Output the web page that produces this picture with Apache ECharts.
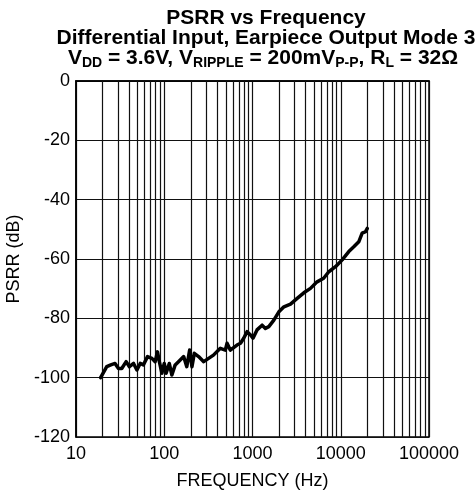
<!DOCTYPE html>
<html><head><meta charset="utf-8">
<script src="https://cdn.jsdelivr.net/npm/echarts@6/dist/echarts.min.js"></script>
<style>html,body{margin:0;padding:0;background:#fff}#c{width:476px;height:498px}</style>
</head><body><div id="c"></div>
<script>
var titleLine1 = 'PSRR vs Frequency';
var titleLine2 = 'Differential Input, Earpiece Output Mode 3';
var xAxisName = 'FREQUENCY (Hz)';
var yAxisName = 'PSRR (dB)';
var xTicks = [10, 100, 1000, 10000, 100000];
var yTicks = [-120, -100, -80, -60, -40, -20, 0];
var minorFreqs = [20,30,40,50,60,70,80,90,200,300,400,500,600,700,800,900,2000,3000,4000,5000,6000,7000,8000,9000,20000,30000,40000,50000,60000,70000,80000,90000];
var freq = [19,22.3,24.8,27.7,30.3,33,37,40.3,44.9,49,53.4,58,64.6,72.5,78.9,83.8,88,94,100,105,114,122,133,145,166,180,194,206,219,245,280,318,361,432,492,515,560,667,731,795,869,950,1013,1125,1285,1401,1530,1745,1990,2270,2695,3207,3815,4540,5390,6400,7320,8720,10380,12340,14050,16000,17480,19100,20000];
var psrr = [-100,-96.3,-95.7,-95.2,-96.9,-96.9,-94.6,-96.3,-95.2,-97.4,-95.2,-95.7,-92.9,-93.5,-94.6,-91.3,-94.6,-98.5,-95.2,-98.5,-95.2,-99.1,-95.7,-94.6,-92.9,-96.3,-90.7,-96.3,-91.8,-92.9,-94.6,-93.5,-92.4,-90.1,-90.7,-88.4,-90.7,-89.0,-88.4,-86.7,-84.5,-85.6,-86.7,-83.9,-82.3,-83.4,-82.8,-80.6,-77.8,-76.1,-75.2,-73.3,-71.4,-69.9,-67.7,-66.5,-64.3,-62.6,-60.3,-57.5,-55.9,-54.2,-51.3,-50.8,-49.7];

var FONT = 'Liberation Sans, Arial, sans-serif';
var chart = echarts.init(document.getElementById('c'), null, {renderer: 'canvas'});
var gridColor = '#111';
chart.setOption({
  animation: false,
  backgroundColor: '#fff',
  title: [
    {text: titleLine1, left: 261, top: 3, textAlign: 'center',
     textStyle: {fontFamily: FONT, fontWeight: 'bold', fontSize: 21, color: '#000', lineHeight: 20}},
    {text: titleLine2, left: 261, top: 23, textAlign: 'center',
     textStyle: {fontFamily: FONT, fontWeight: 'bold', fontSize: 21, color: '#000', lineHeight: 20}},
    {text: '{n|V}{s|DD}{n| = 3.6V, V}{s|RIPPLE}{n| = 200mV}{s|P-P}{n|, R}{s|L}{n| = 32Ω}', left: 258, top: 43, textAlign: 'center',
     textStyle: {fontFamily: FONT, fontWeight: 'bold', fontSize: 21, color: '#000',
       rich: {
         n: {fontFamily: FONT, fontWeight: 'bold', fontSize: 21, color: '#000', lineHeight: 20, verticalAlign: 'top'},
         s: {fontFamily: FONT, fontWeight: 'bold', fontSize: 14, color: '#000', lineHeight: 20, verticalAlign: 'top', padding: [8, 0, 0, 0]}
       }}}
  ],
  grid: {left: 76, right: 47, top: 81, bottom: 61, show: true, borderColor: '#000', borderWidth: 1.5,
         backgroundColor: 'transparent', containLabel: false, outerBoundsMode: 'none'},
  xAxis: {
    type: 'log', logBase: 10, min: xTicks[0], max: xTicks[xTicks.length - 1],
    name: xAxisName, nameLocation: 'middle', nameGap: 35,
    nameTextStyle: {fontFamily: FONT, fontSize: 18, color: '#000'},
    axisLine: {show: true, lineStyle: {color: '#000', width: 1.5}},
    axisTick: {show: false},
    axisLabel: {fontFamily: FONT, fontSize: 18, color: '#000', margin: 8, showMinLabel: true, showMaxLabel: true,
      formatter: function (v) { return String(Math.round(v)); }},
    splitLine: {show: true, lineStyle: {color: gridColor, width: 1.2}}
  },
  yAxis: {
    type: 'value', min: yTicks[0], max: yTicks[yTicks.length - 1], interval: 20,
    name: yAxisName, nameLocation: 'middle', nameGap: 46,
    nameTextStyle: {fontFamily: FONT, fontSize: 18, color: '#000'},
    axisLine: {show: true, lineStyle: {color: '#000', width: 1.5}},
    axisTick: {show: false},
    axisLabel: {fontFamily: FONT, fontSize: 18, color: '#000', margin: 6},
    splitLine: {show: true, lineStyle: {color: gridColor, width: 1.2}}
  },
  series: [{
    type: 'line',
    data: freq.map(function (f, i) { return [f, psrr[i]]; }),
    showSymbol: false, symbol: 'none', smooth: false,
    lineStyle: {color: '#000', width: 3.5, join: 'round', cap: 'round'},
    z: 5,
    markLine: {
      silent: true, symbol: 'none', animation: false,
      label: {show: false},
      lineStyle: {color: gridColor, width: 1.2, type: 'solid'},
      emphasis: {disabled: true},
      data: minorFreqs.map(function (f) { return {xAxis: f}; }),
      z: 1
    }
  }]
});
</script></body></html>
